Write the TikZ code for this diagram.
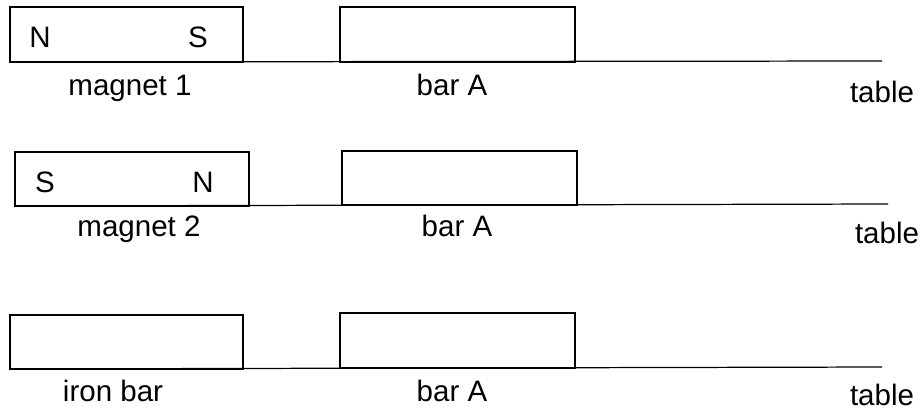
\documentclass[tikz,border=0pt]{standalone}
\usepackage{fontspec}
\setmainfont{Liberation Sans}
\begin{document}
\begin{tikzpicture}[x=0.02cm,y=-0.02cm,line width=0.7pt,
  lab/.style={anchor=base,inner sep=0pt,font=\fontsize{16.8}{20}\selectfont}]
\useasboundingbox (0,0) rectangle (923,410);

% magnet 1
\coordinate (t1a) at (10,62);
\coordinate (t1b) at (882,61);
\draw (t1a) -- (t1b);
\draw (10,7) rectangle (243,62);
\draw (340,7) rectangle (575,62);
\node[lab] (n1) at (40,47) {N};
\node[lab] (s1) at (198,47) {S};
\node[lab] (m1) at (130,95) {magnet 1};
\node[lab] (a1) at (452,95) {bar A};
\node[lab] (tab1) at (882,102) {table};

% magnet 2
\coordinate (t2a) at (15,206);
\coordinate (t2b) at (888,204);
\draw (t2a) -- (t2b);
\draw (15,152) rectangle (249,206);
\draw (342,151) rectangle (577,205);
\node[lab] (s2) at (45,192) {S};
\node[lab] (n2) at (203,192) {N};
\node[lab] (m2) at (139,236) {magnet 2};
\node[lab] (a2) at (457,236) {bar A};
\node[lab] (tab2) at (887,243) {table};

% iron bar
\coordinate (t3a) at (10,369);
\coordinate (t3b) at (882,367);
\draw (t3a) -- (t3b);
\draw (10,315) rectangle (243,369);
\draw (340,313) rectangle (575,368);
\node[lab] (ib) at (113,401) {iron bar};
\node[lab] (a3) at (452,401) {bar A};
\node[lab] (tab3) at (882,405) {table};

\end{tikzpicture}
\end{document}
